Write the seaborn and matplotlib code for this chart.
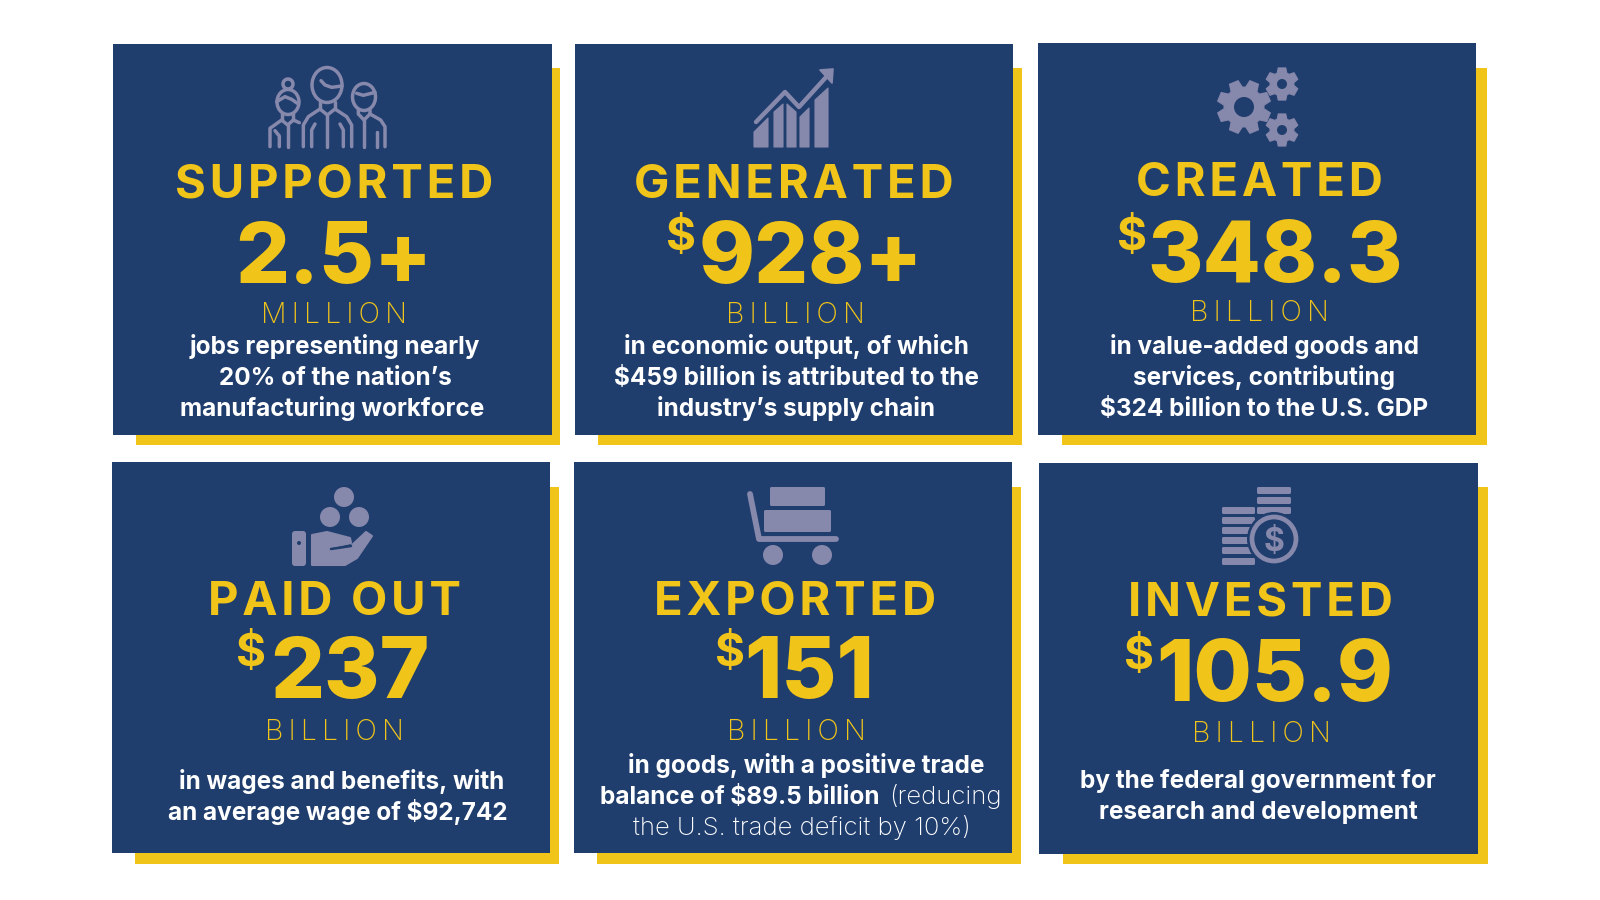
import numpy as np
import matplotlib
matplotlib.use('Agg')
import matplotlib.pyplot as plt
from matplotlib.patches import Rectangle, Circle, Ellipse, Polygon, FancyBboxPatch
import seaborn as sns

# card content
verbs = ['SUPPORTED', 'GENERATED', 'CREATED', 'PAID OUT', 'EXPORTED', 'INVESTED']
prefixes = ['', '$', '$', '$', '$', '$']
amounts = ['2.5+', '928+', '348.3', '237', '151', '105.9']
units = ['MILLION', 'BILLION', 'BILLION', 'BILLION', 'BILLION', 'BILLION']
descriptions = [
    ['jobs representing nearly', '20% of the nation’s', 'manufacturing workforce'],
    ['in economic output, of which', '$459 billion is attributed to the', 'industry’s supply chain'],
    ['in value-added goods and', 'services, contributing', '$324 billion to the U.S. GDP'],
    ['in wages and benefits, with', 'an average wage of $92,742'],
    ['in goods, with a positive trade', 'balance of $89.5 billion'],
    ['by the federal government for', 'research and development'],
]
export_note = ['(reducing', 'the U.S. trade deficit by 10%)']

NAVY = '#1F3D6D'
YELLOW = '#F0C419'
LAV = '#8688AC'

# layout, in pixels of the 1600x900 canvas
card_x = [(113, 552), (575, 1013), (1038, 1476), (112, 550), (574, 1012), (1039, 1478)]
card_y = [(44, 435), (44, 435), (43, 435), (462, 853), (462, 853), (463, 854)]
shadow_x = [(136, 560), (598, 1022), (1062, 1487), (135, 559), (597, 1021), (1063, 1488)]
shadow_y = [(68, 445), (68, 445), (68, 445), (487, 864), (487, 864), (487, 864)]
verb_pos = [(334, 198), (794, 198), (1259, 196), (334, 615), (795, 615), (1260, 616)]
amount_pos = [(334, 283), (811, 283), (1275, 282), (350, 698), (809, 698), (1275, 701)]
prefix_pos = [None, (681, 250), (1132, 250), (251, 666), (730, 666), (1139, 669)]
unit_pos = [(334, 323), (795, 323), (1259, 321), (334, 740), (796, 740), (1261, 742)]
desc_x = [[335, 335, 332], [796, 796, 796], [1264, 1264, 1264],
          [342, 338], [806, 600], [1258, 1258]]
desc_y = [[354, 385, 416], [354, 385, 416], [354, 385, 416],
          [789, 820], [773, 804], [788, 819]]

sns.set_theme(style='white')
palette = sns.color_palette([NAVY, YELLOW, LAV])
FONT = ['Inter', 'DejaVu Sans']
plt.rcParams['font.family'] = FONT

fig, ax = plt.subplots(figsize=(16, 9), dpi=100)
fig.subplots_adjust(left=0, right=1, top=1, bottom=0)
ax.set_xlim(0, 1600)
ax.set_ylim(900, 0)
ax.axis('off')


def track(s, gap='\u200a'):
    return gap.join(s)


def label(x, y, s, size, weight, color='white', ha='center'):
    ax.text(x, y, s, fontsize=size, fontweight=weight, color=color, ha=ha,
            va='baseline', parse_math=False, zorder=5, family=FONT)


def stroke(pts, lw=2.5, color=LAV, z=4):
    pts = np.array(pts)
    ax.plot(pts[:, 0], pts[:, 1], color=color, lw=lw, solid_capstyle='round',
            solid_joinstyle='round', zorder=z)


def fill(pts, color=LAV, lw=0.8, z=4):
    ax.add_patch(Polygon(pts, closed=True, fc=color, ec=color, lw=lw, joinstyle='round', zorder=z))


def disc(x, y, r, color=LAV, z=4):
    ax.add_patch(Circle((x, y), r, fc=color, ec='none', zorder=z))


def pill(x0, y0, x1, y1, r=1.5, color=LAV):
    ax.add_patch(FancyBboxPatch((x0 + r, y0 + r), x1 - x0 - 2 * r, y1 - y0 - 2 * r,
                                boxstyle=f'round,pad={r},rounding_size={r}',
                                fc=color, ec='none', zorder=4))


def gear(cx, cy, outer, root, hole, teeth, start=0.0):
    pts = []
    step = 2 * np.pi / teeth
    for i in range(teeth):
        a = start + i * step
        for da, r in [(-0.30, root), (-0.17, outer), (0.17, outer), (0.30, root)]:
            pts.append((cx + r * np.cos(a + da * step * 1.3), cy + r * np.sin(a + da * step * 1.3)))
    fill(pts)
    disc(cx, cy, hole, color=NAVY, z=5)


def head(cx, cy, w, h):
    ax.add_patch(Ellipse((cx, cy), w, h, fc='none', ec=LAV, lw=2.5, zorder=4))


def zp(pts):
    return [(240 + x / 3, 60 + y / 3) for x, y in pts]


def icon_people():
    # middle man
    head(327, 85, 30, 35)
    stroke(zp([(243, 62), (255, 75), (275, 82), (306, 78)]))
    stroke(zp([(190, 260), (190, 195), (205, 170), (240, 147), (262, 165), (285, 147),
               (320, 170), (335, 195), (335, 260)]))
    stroke(zp([(240, 125), (240, 147)]))
    stroke(zp([(285, 125), (285, 147)]))
    stroke(zp([(262, 165), (262, 260)]))
    stroke(zp([(215, 260), (215, 210), (225, 192)]))
    stroke(zp([(310, 260), (310, 210), (300, 192)]))
    # woman on the left
    head(288, 102, 22, 25)
    disc(288, 84, 6.5, color=NAVY, z=3)
    ax.add_patch(Circle((288, 84), 5, fc='none', ec=LAV, lw=2.5, zorder=3.5))
    stroke(zp([(110, 125), (135, 110), (155, 118), (172, 130)]))
    stroke(zp([(90, 260), (90, 205), (125, 180), (143, 195), (160, 180), (178, 188)]))
    stroke(zp([(125, 160), (125, 180)]))
    stroke(zp([(160, 160), (160, 180)]))
    stroke(zp([(143, 195), (143, 260)]))
    stroke(zp([(118, 260), (118, 228), (105, 212)]))
    # boy on the right
    head(364, 97, 23, 27)
    stroke(zp([(350, 100), (370, 106), (405, 97)]))
    stroke(zp([(355, 150), (355, 162), (372, 180), (390, 162), (390, 150)]))
    stroke(zp([(390, 162), (422, 180), (435, 200), (435, 260)]))
    stroke(zp([(372, 180), (372, 260)]))
    stroke(zp([(412, 260), (412, 215)]))


def icon_chart():
    fill([(754, 147), (754, 132), (768, 118), (768, 147)])
    fill([(774, 147), (774, 112), (783, 104), (783, 147)])
    fill([(787, 147), (787, 104), (796, 112), (796, 147)])
    fill([(800, 147), (800, 117), (809, 108), (809, 147)])
    fill([(815, 147), (815, 100), (828, 88), (828, 147)])
    stroke([(756, 122), (785, 92), (799, 107), (828, 75)], lw=3.2)
    fill([(820, 70), (833, 69), (832, 83)], lw=1.2)


def icon_gears():
    gear(1244, 107, 27, 20, 10, 8, start=np.pi / 8)
    gear(1282, 84, 16.5, 12, 5, 6, start=np.pi / 6)
    gear(1282, 130, 16.5, 12, 5, 6, start=np.pi / 6)


def icon_hand():
    disc(344, 497, 10)
    disc(330, 517, 10)
    disc(359, 517, 10)
    pill(292, 531, 306, 566, r=3)
    disc(299, 543, 2, color=NAVY, z=5)
    fill([(312, 535), (327, 532), (350, 538), (351, 543), (333, 547), (330, 551),
          (350, 547), (366, 532), (372, 536), (357, 558), (345, 565), (312, 565)], lw=1.5)
    stroke([(331, 549), (351, 546)], lw=1.8, color=NAVY, z=5)


def icon_cart():
    pill(770, 487, 825, 506, r=1.5)
    pill(764, 510, 831, 532, r=1.5)
    stroke([(750, 494), (759, 539), (836, 539)], lw=4.2)
    disc(773, 555, 10)
    disc(822, 555, 10)


def icon_coins():
    for y0 in [507, 517, 527, 537, 547, 558]:
        pill(1222, y0, 1255, y0 + 7, r=1.5)
    for y0 in [487, 497, 507]:
        pill(1257, y0, 1291, y0 + 7, r=1.5)
    disc(1274, 539, 27, color=NAVY, z=4.5)
    ax.add_patch(Circle((1274, 539), 22, fc='none', ec=LAV, lw=3.4, zorder=5))
    label(1274, 551, '$', 23, 'bold', color=LAV)


icons = [icon_people, icon_chart, icon_gears, icon_hand, icon_cart, icon_coins]

for i in range(6):
    x0, x1 = shadow_x[i]
    y0, y1 = shadow_y[i]
    ax.add_patch(Rectangle((x0, y0), x1 - x0, y1 - y0, fc=palette[1], ec='none', zorder=1))
    x0, x1 = card_x[i]
    y0, y1 = card_y[i]
    ax.add_patch(Rectangle((x0, y0), x1 - x0, y1 - y0, fc=palette[0], ec='none', zorder=2))

    icons[i]()

    label(verb_pos[i][0], verb_pos[i][1], track(verbs[i]), 34, 'bold', YELLOW)
    label(amount_pos[i][0], amount_pos[i][1], amounts[i], 61, 'heavy', YELLOW)
    if prefixes[i]:
        label(prefix_pos[i][0], prefix_pos[i][1], prefixes[i], 33, 'bold', YELLOW)
    label(unit_pos[i][0], unit_pos[i][1], track(units[i], '\u2009'), 20.5, 'light', YELLOW)
    for j, line in enumerate(descriptions[i]):
        ha = 'left' if (i == 4 and j == 1) else 'center'
        label(desc_x[i][j], desc_y[i][j], line, 17.5, 'bold', ha=ha)

# the light part of the export text
label(889, 804, export_note[0], 18.5, 'light', ha='left')
label(802, 835, export_note[1], 18.5, 'light')

fig.savefig('out.png', dpi=100)
